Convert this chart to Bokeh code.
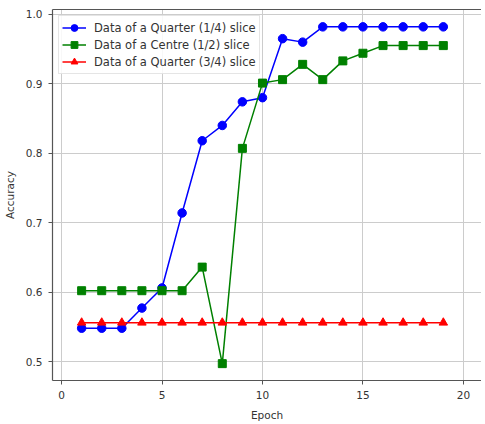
from bokeh.plotting import figure
from bokeh.models import (Range1d, FixedTicker, Legend, LegendItem, NumeralTickFormatter,
                          LinearAxis)
from bokeh.embed import file_html
from bokeh.resources import INLINE

epochs = list(range(1, 20))
quarter_14 = [0.548, 0.548, 0.548, 0.577, 0.606, 0.714, 0.818, 0.840, 0.874, 0.880,
              0.965, 0.960, 0.982, 0.982, 0.982, 0.982, 0.982, 0.982, 0.982]
centre_12 = [0.602, 0.602, 0.602, 0.602, 0.602, 0.602, 0.636, 0.497, 0.807, 0.901,
             0.906, 0.928, 0.906, 0.933, 0.944, 0.955, 0.955, 0.955, 0.955]
quarter_34 = [0.556] * 19
x_ticks = [0, 5, 10, 15, 20]
y_ticks = [0.5, 0.6, 0.7, 0.8, 0.9, 1.0]
labels = ["Data of a Quarter (1/4) slice", "Data of a Centre (1/2) slice",
          "Data of a Quarter (3/4) slice"]

FONT = "DejaVu Sans"

p = figure(frame_width=429, frame_height=371, output_backend="svg", toolbar_location=None,
           x_range=Range1d(-0.45, 20.9), y_range=Range1d(0.4727, 1.007),
           min_border_left=48, min_border_top=9, min_border_right=0, min_border_bottom=30)
p.background_fill_color = "white"
p.border_fill_color = "white"
p.outline_line_color = None

xax = p.below[0]
yax = p.left[0]
for ax in (xax, yax):
    ax.axis_line_color = "#555555"
    ax.axis_line_width = 1.2
    ax.major_tick_line_color = "#555555"
    ax.major_tick_out = 4
    ax.major_tick_in = 0
    ax.minor_tick_line_color = None
    ax.major_label_text_font = FONT
    ax.major_label_text_font_size = "10.5px"
    ax.major_label_text_color = "#333333"
    ax.axis_label_text_font = FONT
    ax.axis_label_text_font_size = "10.5px"
    ax.axis_label_text_font_style = "normal"
    ax.axis_label_text_color = "#333333"
    ax.major_label_standoff = 6
    ax.axis_label_standoff = 7

xax.ticker = FixedTicker(ticks=x_ticks)
yax.ticker = FixedTicker(ticks=y_ticks)
yax.formatter = NumeralTickFormatter(format="0.0")
xax.axis_label = "Epoch"
yax.axis_label = "Accuracy"

top_axis = LinearAxis(axis_line_color="#555555", axis_line_width=1.2,
                      major_tick_line_color=None, minor_tick_line_color=None,
                      major_tick_out=0, major_tick_in=0,
                      major_label_standoff=0, axis_label_standoff=0,
                      ticker=FixedTicker(ticks=[]))
p.add_layout(top_axis, "above")

p.xgrid.ticker = FixedTicker(ticks=x_ticks)
p.ygrid.ticker = FixedTicker(ticks=y_ticks)
p.grid.grid_line_color = "#cccccc"
p.grid.grid_line_width = 1

l1 = p.line(epochs, quarter_14, line_color="blue", line_width=1.5)
m1 = p.scatter(epochs, quarter_14, marker="circle", size=8.5, fill_color="blue", line_color="blue")
l2 = p.line(epochs, centre_12, line_color="green", line_width=1.5)
m2 = p.scatter(epochs, centre_12, marker="square", size=8, fill_color="green", line_color="green")
l3 = p.line(epochs, quarter_34, line_color="red", line_width=1.5)
m3 = p.scatter(epochs, quarter_34, marker="triangle", size=8.5, fill_color="red", line_color="red")

legend = Legend(items=[LegendItem(label=labels[0], renderers=[l1, m1]),
                       LegendItem(label=labels[1], renderers=[l2, m2]),
                       LegendItem(label=labels[2], renderers=[l3, m3])],
                location="top_left")
legend.label_text_font = FONT
legend.label_text_font_size = "11.5px"
legend.label_text_color = "#333333"
legend.glyph_width = 24
legend.glyph_height = 17
legend.label_height = 17
legend.spacing = 0
legend.padding = 3
legend.margin = 6
legend.label_standoff = 8
legend.border_line_color = "#cccccc"
legend.background_fill_alpha = 0.85
p.add_layout(legend)

open("out.html", "w").write(file_html(p, INLINE))
